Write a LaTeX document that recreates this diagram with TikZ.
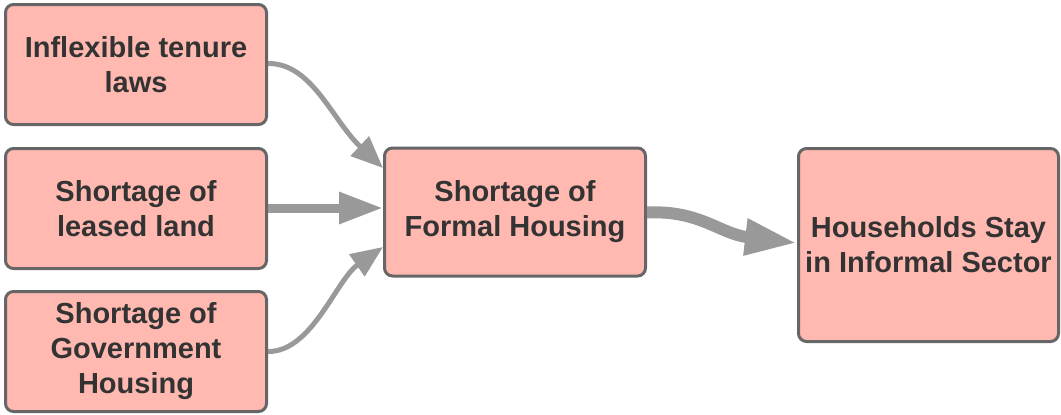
\documentclass[tikz,border=0pt]{standalone}
\usepackage{fontspec}
\setmainfont{Liberation Sans}
\usetikzlibrary{arrows.meta}
\definecolor{boxfill}{HTML}{FFB9B0}
\definecolor{boxline}{HTML}{666666}
\definecolor{txt}{HTML}{333333}
\definecolor{link}{HTML}{999999}
\begin{document}
\begin{tikzpicture}[x=1pt,y=-1pt,
  factor/.style={draw=boxline, fill=boxfill, line width=3pt, rounded corners=8pt,
    text=txt, align=center, inner sep=0pt,
    font=\fontsize{29}{35}\selectfont\bfseries},
  link/.style={draw=link, line cap=butt},
  thinlink/.style={link, line width=5pt, -{Triangle[length=32pt,width=26pt]}},
  midlink/.style={link, line width=9pt, -{Triangle[length=44pt,width=30pt]}},
  widelink/.style={link, line width=12pt, -{Triangle[length=52pt,width=34pt]}}]
\useasboundingbox (0,0) rectangle (1061,415);

% causes
\node[factor, minimum width=261pt, minimum height=120pt] (tenure) at (136,64.5) {Inflexible tenure\\laws};
\node[factor, minimum width=261pt, minimum height=120pt] (land) at (136,208.5) {Shortage of\\leased land};
\node[factor, minimum width=261pt, minimum height=120pt] (gov) at (136,351.5) {Shortage of\\Government\\Housing};

% intermediate and final effect
\node[factor, minimum width=261pt, minimum height=128pt] (formal) at (515,212) {Shortage of\\Formal Housing};
\node[factor, minimum width=260pt, minimum height=193pt] (informal) at (928.5,245) {Households Stay\\in Informal Sector};

% connector end points (shifts are in page units, so positive is upward)
\coordinate (t0) at ([yshift=1pt]tenure.east);
\coordinate (g0) at (gov.east);
\coordinate (f1) at ([yshift=44pt]formal.west);
\coordinate (f3) at ([yshift=-35pt]formal.west);
\coordinate (f2) at ([yshift=4pt]formal.west);
\coordinate (l0) at ([yshift=0.5pt]land.east);
\coordinate (o0) at ([yshift=-0.5pt]formal.east);
\coordinate (i0) at ([yshift=2pt]informal.west);

\draw[thinlink] (t0) .. controls (312,63) and (332,120) .. (f1);
\draw[midlink] (l0) -- (f2);
\draw[thinlink] (g0) .. controls (312,352) and (336,280) .. (f3);
\draw[widelink] (o0) .. controls (700,210) and (720,234) .. (i0);
\end{tikzpicture}
\end{document}
